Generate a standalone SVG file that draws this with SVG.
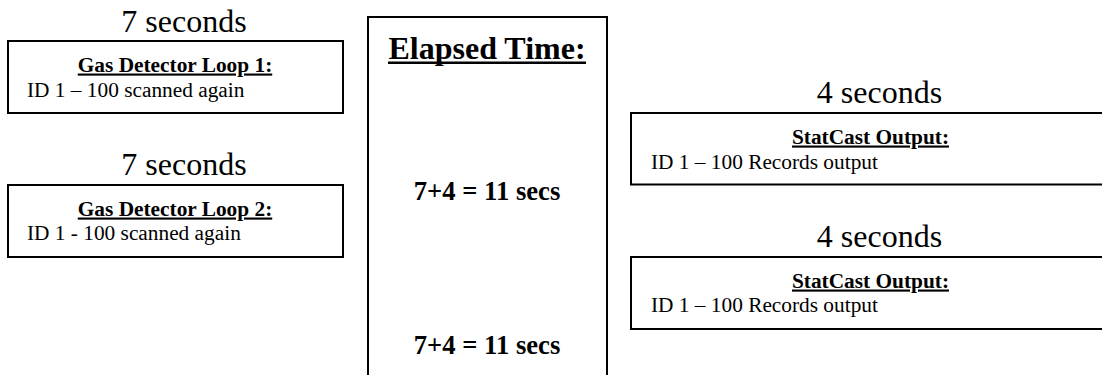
<svg xmlns="http://www.w3.org/2000/svg" width="1102" height="375" viewBox="0 0 1102 375">
<style>
.box{fill:#fff;stroke:#000;stroke-width:2}
.t{font-family:"Liberation Serif","Times New Roman",serif;fill:#000}
.sec{font-size:32px;text-anchor:middle}
.ttl{font-size:21.33px;font-weight:bold;text-anchor:middle;text-decoration:underline}
.bod{font-size:21.33px}
.big{font-size:32px;font-weight:bold;text-anchor:middle}
.sum{font-size:26.67px;font-weight:bold;text-anchor:middle}
</style>
<rect width="1102" height="375" fill="#fff"/>
<g id="loop1">
<text class="t sec" x="184" y="31.5">7 seconds</text>
<rect class="box" x="8" y="41" width="335" height="72"/>
<text class="t ttl" x="175" y="71.5">Gas Detector Loop 1:</text>
<text class="t bod" x="27" y="96.5">ID 1 – 100 scanned again</text>
</g>
<g id="loop2">
<text class="t sec" x="184" y="175">7 seconds</text>
<rect class="box" x="8" y="185" width="335" height="72"/>
<text class="t ttl" x="175" y="215.5">Gas Detector Loop 2:</text>
<text class="t bod" x="27" y="240">ID 1 - 100 scanned again</text>
</g>
<g id="elapsed">
<rect class="box" x="368" y="17" width="239" height="370"/>
<text class="t big" x="487" y="58.5">Elapsed Time:</text>
<rect x="388" y="61.5" width="198" height="2.5" fill="#000"/>
<text class="t sum" x="487" y="199.5">7+4 = 11 secs</text>
<text class="t sum" x="487" y="353.5">7+4 = 11 secs</text>
</g>
<g id="out1">
<text class="t sec" x="879.5" y="103">4 seconds</text>
<rect class="box" x="631" y="113" width="480" height="71.5"/>
<text class="t ttl" x="870.5" y="143.5">StatCast Output:</text>
<text class="t bod" x="651" y="168.5">ID 1 – 100 Records output</text>
</g>
<g id="out2">
<text class="t sec" x="879.5" y="246.5">4 seconds</text>
<rect class="box" x="631" y="257" width="480" height="72"/>
<text class="t ttl" x="870.5" y="287.5">StatCast Output:</text>
<text class="t bod" x="651" y="311.5">ID 1 – 100 Records output</text>
</g>
<g id="connectors"/>
</svg>
